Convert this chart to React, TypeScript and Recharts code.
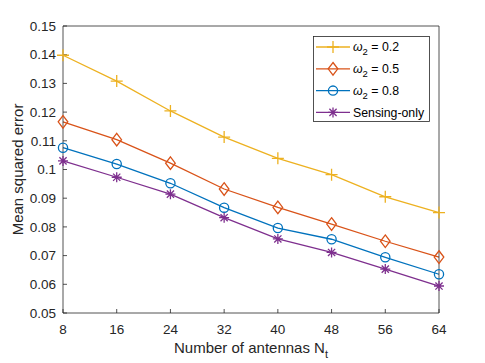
import { LineChart, Line, XAxis, YAxis, Legend, Label } from "recharts"

// ─── Data ──────────────────────────────────────────────────────────────────────

const ANTENNAS = [8, 16, 24, 32, 40, 48, 56, 64]
const MSE_W02 = [0.1398, 0.1308, 0.1204, 0.1113, 0.1039, 0.0982, 0.0905, 0.0850]
const MSE_W05 = [0.1166, 0.1104, 0.1022, 0.0932, 0.0868, 0.0810, 0.0750, 0.0695]
const MSE_W08 = [0.1076, 0.1019, 0.0952, 0.0867, 0.0796, 0.0757, 0.0694, 0.0635]
const MSE_SENSING = [0.1030, 0.0973, 0.0914, 0.0832, 0.0758, 0.0711, 0.0653, 0.0594]
const Y_TICKS = [0.05, 0.06, 0.07, 0.08, 0.09, 0.1, 0.11, 0.12, 0.13, 0.14, 0.15]

const DATA = ANTENNAS.map((n, i) => ({
    n,
    w02: MSE_W02[i],
    w05: MSE_W05[i],
    w08: MSE_W08[i],
    sensing: MSE_SENSING[i],
}))

type MarkerKind = "plus" | "diamond" | "circle" | "star"

const SERIES: { key: string; omega?: string; name: string; color: string; marker: MarkerKind }[] = [
    { key: "w02", omega: "0.2", name: "ω2 = 0.2", color: "#EDB120", marker: "plus" },
    { key: "w05", omega: "0.5", name: "ω2 = 0.5", color: "#D95319", marker: "diamond" },
    { key: "w08", omega: "0.8", name: "ω2 = 0.8", color: "#0072BD", marker: "circle" },
    { key: "sensing", name: "Sensing-only", color: "#7E2F8E", marker: "star" },
]

// ─── Styles ────────────────────────────────────────────────────────────────────

const FONT = "'Liberation Sans', Arial, Helvetica, sans-serif"
const AXIS_COLOR = "#262626"
const tickStyle = { fill: AXIS_COLOR, fontSize: 13.5, fontFamily: FONT }
const axisLine = { stroke: AXIS_COLOR, strokeWidth: 0.8 }
const tickLine = { stroke: AXIS_COLOR, strokeWidth: 0.8 }

const fmtY = (v: number) => String(Number(v.toFixed(2)))

// ─── Markers ───────────────────────────────────────────────────────────────────

function Marker({ kind, cx, cy, color }: { kind: MarkerKind; cx: number; cy: number; color: string }) {
    const common = { stroke: color, strokeWidth: 1.3, fill: "none" }
    if (kind === "plus") {
        return <path d={`M${cx - 6},${cy}H${cx + 6}M${cx},${cy - 6}V${cy + 6}`} {...common} />
    }
    if (kind === "diamond") {
        return <path d={`M${cx},${cy - 6.3}L${cx + 4.8},${cy}L${cx},${cy + 6.3}L${cx - 4.8},${cy}Z`} {...common} />
    }
    if (kind === "circle") {
        return <circle cx={cx} cy={cy} r={4.6} {...common} />
    }
    const d = 3.6
    return (
        <path
            d={`M${cx - 5},${cy}H${cx + 5}M${cx},${cy - 5}V${cy + 5}M${cx - d},${cy - d}L${cx + d},${cy + d}M${cx - d},${cy + d}L${cx + d},${cy - d}`}
            {...common}
        />
    )
}

// ─── Legend ────────────────────────────────────────────────────────────────────

function ChartLegend() {
    return (
        <svg width={117} height={86} style={{ display: "block" }}>
            <rect x={0.5} y={0.5} width={116} height={85} fill="#fff" stroke={AXIS_COLOR} strokeWidth={0.8} />
            {SERIES.map((s, i) => {
                const y = 11 + i * 21.8
                return (
                    <g key={s.key}>
                        <line x1={3} x2={37} y1={y} y2={y} stroke={s.color} strokeWidth={1.3} />
                        <Marker kind={s.marker} cx={20} cy={y} color={s.color} />
                        <text x={40} y={y + 4.3} fontSize={12.3} fontFamily={FONT} fill="#000">
                            {s.omega ? (
                                <>
                                    <tspan fontStyle="italic">ω</tspan>
                                    <tspan dy={4} fontSize={9.5}>2</tspan>
                                    <tspan dy={-4}>{` = ${s.omega}`}</tspan>
                                </>
                            ) : (
                                s.name
                            )}
                        </text>
                    </g>
                )
            })}
        </svg>
    )
}

// ─── Axis labels ───────────────────────────────────────────────────────────────

function XLabel({ viewBox }: any) {
    const cx = viewBox.x + viewBox.width / 2
    return (
        <text x={cx} y={viewBox.y + 40} textAnchor="middle" fontSize={15} fontFamily={FONT} fill={AXIS_COLOR}>
            Number of antennas N
            <tspan dy={4.5} fontSize={11}>t</tspan>
        </text>
    )
}

// ─── Component ─────────────────────────────────────────────────────────────────

export default function App() {
    return (
        <div style={{ position: "absolute", left: 0, top: 0, width: 485, height: 363, background: "#fff" }}>
            <LineChart width={485} height={363} data={DATA} margin={{ top: 6, right: 0, bottom: 0, left: 0 }}>
                <XAxis
                    dataKey="n"
                    type="number"
                    domain={[8, 64]}
                    ticks={ANTENNAS}
                    height={50}
                    tick={tickStyle}
                    axisLine={axisLine}
                    tickLine={tickLine}
                    tickSize={-4}
                    tickMargin={15}
                    interval={0}
                >
                    <Label content={XLabel} />
                </XAxis>
                <XAxis
                    xAxisId="top"
                    orientation="top"
                    type="number"
                    domain={[8, 64]}
                    ticks={ANTENNAS}
                    height={20}
                    tick={tickStyle}
                    tickFormatter={() => ""}
                    axisLine={axisLine}
                    tickLine={tickLine}
                    tickSize={-4}
                    interval={0}
                />
                <YAxis
                    type="number"
                    domain={[0.05, 0.15]}
                    ticks={Y_TICKS}
                    width={63}
                    tick={tickStyle}
                    tickFormatter={fmtY}
                    axisLine={axisLine}
                    tickLine={tickLine}
                    tickSize={-4}
                    tickMargin={11}
                    interval={0}
                    allowDataOverflow
                    label={{
                        value: "Mean squared error",
                        angle: -90,
                        position: "insideLeft",
                        offset: 18,
                        style: { textAnchor: "middle", fontSize: 15, fontFamily: FONT, fill: AXIS_COLOR },
                    }}
                />
                <YAxis
                    yAxisId="right"
                    orientation="right"
                    type="number"
                    domain={[0.05, 0.15]}
                    ticks={Y_TICKS}
                    width={46}
                    tick={tickStyle}
                    tickFormatter={() => ""}
                    axisLine={axisLine}
                    tickLine={tickLine}
                    tickSize={-4}
                    interval={0}
                />
                <Legend
                    layout="horizontal"
                    verticalAlign="middle"
                    align="center"
                    content={ChartLegend}
                    wrapperStyle={{ position: "absolute", left: 313, top: 36, width: 117, height: 86 }}
                />
                {SERIES.map((s) => (
                    <Line
                        key={s.key}
                        dataKey={s.key}
                        name={s.name}
                        type="linear"
                        stroke={s.color}
                        strokeWidth={1.3}
                        dot={(p: any) => <Marker key={`${s.key}-${p.index}`} kind={s.marker} cx={p.cx} cy={p.cy} color={s.color} />}
                        activeDot={false}
                        isAnimationActive={false}
                    />
                ))}
            </LineChart>
        </div>
    )
}
